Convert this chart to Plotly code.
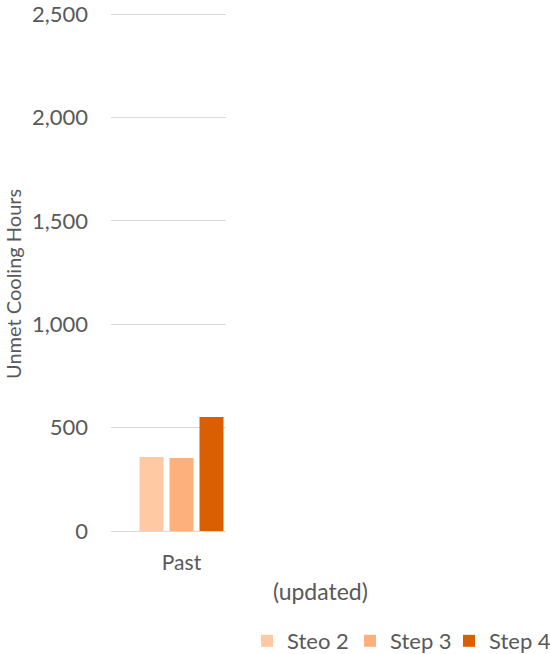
import plotly.graph_objects as go

categories = ["Past"]
series_names = ["Steo 2", "Step 3", "Step 4"]
series_values = [[358], [353], [551]]
colors = ["#FFC9A3", "#FDB07C", "#D95F02"]
y_ticks = [0, 500, 1000, 1500, 2000, 2500]
y_ticktext = ["0", "500", "1,000", "1,500", "2,000", "2,500"]
y_max = 2510

font_family = "Lato, Open Sans, sans-serif"
txt = "#595959"

L, R, T, B = 111, 226, 12, 531
W, H = 550, 654
pw, ph = R - L, B - T

legend_keys = ["legend", "legend2", "legend3"]
legend_sym_left = [261, 364, 463]

fig = go.Figure()
for name, vals, c, lk in zip(series_names, series_values, colors, legend_keys):
    fig.add_trace(go.Bar(x=categories, y=vals, name=name, legend=lk,
                         marker=dict(color=c, line=dict(width=0))))

legend_layout = {}
for lk, xs in zip(legend_keys, legend_sym_left):
    legend_layout[lk] = dict(orientation="h", x=(xs - 14 - L) / pw, xref="paper",
                             xanchor="left", y=(B - 641) / ph, yanchor="middle",
                             font=dict(size=22, color=txt), itemwidth=30,
                             bgcolor="rgba(0,0,0,0)")

fig.update_layout(
    width=W, height=H,
    margin=dict(l=L, r=W - R, t=T, b=H - B, autoexpand=False),
    paper_bgcolor="white", plot_bgcolor="white",
    barmode="group", bargap=0.1, bargroupgap=0.2,
    font=dict(family=font_family, size=20, color=txt),
    showlegend=True,
    xaxis=dict(type="category", range=[-0.705, 0.445], showgrid=False, zeroline=False,
               showline=False, ticks="", ticklabelstandoff=17,
               tickfont=dict(size=21, color=txt)),
    yaxis=dict(range=[0, y_max], tickvals=y_ticks, ticktext=y_ticktext, showgrid=True,
               gridcolor="#D9D9D9", gridwidth=1.3, zeroline=True, zerolinecolor="#D9D9D9",
               zerolinewidth=1.3, ticks="", ticklabelstandoff=22, showline=False,
               ticklabeloverflow="allow", tickfont=dict(size=22, color=txt)),
    annotations=[
        dict(text="Unmet Cooling Hours", textangle=-90, xref="paper", yref="paper",
             x=(13 - L) / pw, y=(B - 284) / ph, xanchor="center", yanchor="middle",
             showarrow=False, font=dict(size=20, color=txt)),
        dict(text="(updated)", xref="paper", yref="paper", x=(320 - L) / pw, y=(B - 591) / ph,
             xanchor="center", yanchor="middle", showarrow=False, font=dict(size=23, color=txt)),
    ],
    **legend_layout,
)
fig.write_html("out.html", config={"displayModeBar": False},
               post_script="document.body.style.margin='0';document.body.style.padding='0';")
